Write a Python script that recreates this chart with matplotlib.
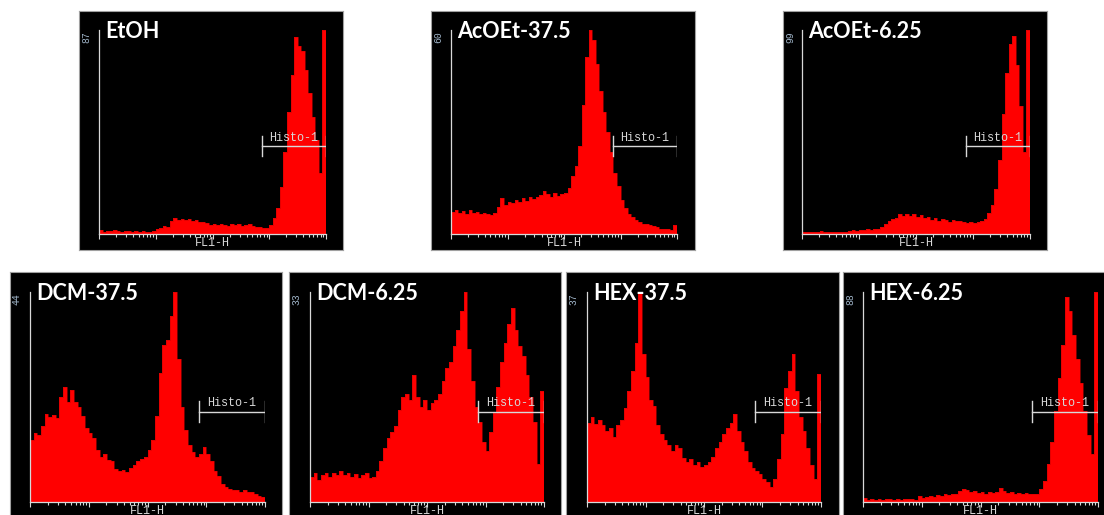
import numpy as np
import matplotlib.pyplot as plt
from matplotlib.ticker import LogLocator, NullFormatter, NullLocator
from matplotlib.transforms import blended_transform_factory

W, H = 1104, 515

titles = ["EtOH", "AcOEt-37.5", "AcOEt-6.25", "DCM-37.5", "DCM-6.25", "HEX-37.5", "HEX-6.25"]
y_max = [87, 60, 99, 44, 33, 37, 88]
gate = [740, 10000]
gate_level = 0.43

# counts per channel, 64 log channels over 4 decades
etoh = [1.5, 1.0, 1.3, 1.1, 1.6, 1.2, 1.0, 1.3, 1.1, 0.9, 1.2, 1.0, 1.1, 0.8, 1.0, 1.2,
        2.0, 2.6, 3.2, 3.0, 5.5, 7.0, 6.0, 6.5, 5.8, 6.4, 5.5, 6.0, 5.2, 5.0,
        4.5, 4.0, 4.4, 3.8, 4.2, 4.0, 3.6, 4.3, 3.9, 4.1, 3.5, 3.8, 4.2, 3.4, 3.0, 2.8, 2.6, 2.5,
        4.0, 7.0, 11, 20, 35, 52, 68, 84, 80, 78, 70, 60, 50, 40, 26, 87]
acoet_375 = [6.5, 7.0, 6.2, 6.8, 6.0, 7.0, 6.3, 6.6, 5.8, 6.3, 6.0, 5.6, 6.2, 8.0, 10.5, 8.5,
             9.5, 9.0, 10.0, 9.5, 10.5, 9.8, 10.8, 10.2, 11.0, 11.5, 12.5, 11.8, 11.0, 12.0,
             11.3, 11.8, 12.0, 13.5, 17.0, 20.0, 26.0, 38.0, 52.0, 60.0, 57.0, 50.0, 42.0,
             36.0, 30.0, 24.0, 18.0, 14.0, 10.0, 7.5, 6.0, 5.0, 4.2, 3.5, 3.0, 2.8, 2.6,
             2.3, 2.0, 1.6, 1.4, 1.5, 1.2, 2.5]
acoet_625 = [1.2, 0.9, 1.1, 0.8, 1.0, 1.3, 0.9, 1.1, 1.0, 1.2, 0.9, 1.0, 1.2, 1.5, 1.8, 1.6,
             2.0, 1.8, 2.2, 2.0, 2.4, 2.6, 3.2, 5.0, 6.5, 7.5, 8.0, 9.8, 8.5, 9.6, 8.8, 9.5,
             8.2, 9.0, 7.6, 8.2, 7.0, 7.8, 6.5, 7.2, 6.8, 6.0, 7.0, 6.2, 6.5, 5.8, 5.5, 5.6,
             5.3, 5.8, 6.5, 7.5, 10.0, 14.0, 22.0, 36.0, 58.0, 78.0, 92.0, 96.0, 82.0, 62.0,
             40.0, 99.0]
dcm_375 = [13.0, 14.5, 14.0, 16.0, 18.5, 17.8, 18.2, 17.5, 22.0, 24.0, 21.0, 23.5, 21.0,
           20.0, 18.0, 15.5, 14.5, 13.5, 11.0, 9.5, 10.0, 8.8, 8.5, 7.0, 6.5, 6.8, 6.2,
           7.2, 7.8, 8.5, 9.0, 9.5, 11.0, 13.0, 18.0, 27.0, 33.0, 34.0, 39.0, 44.0, 30.0,
           20.0, 15.0, 12.0, 10.5, 9.5, 10.0, 11.5, 10.0, 8.5, 6.5, 5.5, 3.8, 3.2, 2.8,
           2.5, 2.6, 2.2, 2.5, 2.0, 2.1, 1.6, 1.3, 1.0]
dcm_625 = [4.0, 4.5, 3.5, 4.2, 4.5, 4.0, 4.6, 4.2, 4.8, 4.3, 4.6, 4.0, 4.4, 3.8, 4.2, 4.6,
           3.8, 4.0, 4.8, 6.5, 8.5, 10.0, 11.0, 12.0, 14.5, 16.5, 17.0, 16.0, 20.0, 16.5,
           15.0, 16.0, 14.5, 15.5, 16.0, 17.0, 19.0, 21.0, 22.0, 24.5, 27.0, 30.0, 33.0,
           24.0, 19.0, 15.0, 12.5, 9.5, 8.0, 11.0, 14.0, 18.0, 22.0, 25.0, 28.0, 30.5,
           27.0, 24.5, 23.0, 20.0, 16.5, 12.5, 6.0, 17.5]
hex_375 = [14.0, 15.0, 13.8, 14.5, 13.5, 12.5, 13.0, 11.5, 13.5, 14.5, 16.5, 19.5, 23.0,
           28.0, 37.0, 26.0, 22.0, 18.0, 17.0, 13.5, 12.0, 11.0, 10.0, 9.0, 10.0, 9.5,
           7.8, 7.0, 7.5, 6.5, 7.0, 6.2, 6.5, 7.0, 8.0, 9.5, 10.5, 12.0, 13.0, 14.0, 15.5,
           12.5, 10.5, 9.0, 7.0, 6.0, 5.5, 5.0, 4.0, 3.5, 2.6, 4.0, 7.5, 12.0, 20.0, 23.0,
           26.0, 19.5, 15.0, 12.5, 9.5, 6.5, 4.0, 22.5]
hex_625 = [1.5, 0.8, 1.2, 1.0, 1.4, 0.9, 1.1, 1.3, 0.9, 1.2, 1.0, 1.3, 1.1, 1.4, 1.0, 2.5,
           1.8, 2.2, 2.6, 2.0, 3.0, 2.6, 3.2, 2.8, 3.5, 3.2, 4.5, 5.5, 5.0, 4.2, 4.8, 3.8,
           4.0, 3.5, 4.2, 3.6, 4.0, 6.0, 4.5, 3.8, 4.2, 3.4, 3.8, 3.3, 3.6, 3.2, 3.5, 3.3,
           5.5, 9.0, 16.0, 25.0, 38.0, 52.0, 66.0, 86.0, 80.0, 70.0, 60.0, 50.0, 38.0,
           28.0, 20.0, 88.0]
series = [etoh, acoet_375, acoet_625, dcm_375, dcm_625, hex_375, hex_625]

# layout in pixels (left, top, right, bottom)
panels = [(79, 11, 343, 250), (431, 11, 695, 250), (783, 11, 1047, 250),
          (10, 272, 282, 530), (289, 272, 561, 530), (566, 272, 839, 530), (843, 272, 1110, 530)]
plots = [(99, 30, 326, 234), (451, 30, 677, 234), (802, 30, 1030, 234),
         (30, 292, 265, 502), (310, 292, 544, 502), (587, 292, 821, 502), (863, 292, 1098, 502)]

edges = np.logspace(0, 4, 65)
fg = '#d8d8d8'


def px_rect(r):
    x0, y0, x1, y1 = r
    return [x0 / W, 1 - y1 / H, (x1 - x0) / W, (y1 - y0) / H]


fig = plt.figure(figsize=(W / 100, H / 100), dpi=100, facecolor='white')

for i in range(7):
    pa = fig.add_axes(px_rect(panels[i]))
    pa.set_facecolor('black')
    pa.set_xticks([])
    pa.set_yticks([])
    for s in pa.spines.values():
        s.set_color('#a0a0a0')
        s.set_linewidth(0.8)

    ax = fig.add_axes(px_rect(plots[i]))
    ax.patch.set_alpha(0)
    ax.stairs(series[i], edges, fill=True, color='#ff0000')
    ax.stairs(series[i], edges, color='#d00000', lw=0.4)
    ax.set_xscale('log')
    ax.set_xlim(1, 10000)
    ax.set_ylim(0, y_max[i])
    ax.xaxis.set_major_locator(LogLocator(base=10, numticks=10))
    ax.xaxis.set_minor_locator(LogLocator(base=10, subs=np.arange(2, 10), numticks=50))
    ax.xaxis.set_major_formatter(NullFormatter())
    ax.xaxis.set_minor_formatter(NullFormatter())
    ax.yaxis.set_major_locator(NullLocator())
    ax.tick_params(axis='x', which='major', length=3.5, width=0.8, color=fg, direction='out')
    ax.tick_params(axis='x', which='minor', length=2.2, width=0.8, color=fg, direction='out')
    for side in ['top', 'right']:
        ax.spines[side].set_visible(False)
    for side in ['left', 'bottom']:
        ax.spines[side].set_color(fg)
        ax.spines[side].set_linewidth(0.9)

    # Histo-1 gate marker
    tr = blended_transform_factory(ax.transData, ax.transAxes)
    ax.plot(gate, [gate_level, gate_level], color=fg, lw=1, transform=tr)
    for g in gate:
        ax.plot([g, g], [gate_level - 0.05, gate_level + 0.05], color=fg, lw=1, transform=tr)
    ax.text(np.sqrt(gate[0] * gate[1]), gate_level + 0.012, "Histo-1", transform=tr,
            ha='center', va='bottom', color=fg, fontsize=8.5, family='Liberation Mono')

    x0, y0, x1, y1 = plots[i]
    px0 = panels[i][0]
    fig.text((x0 + x1) / 2 / W, 1 - (y1 + 9) / H, "FL1-H", ha='center', va='center',
             color=fg, fontsize=8.5, family='Liberation Mono')
    fig.text((px0 + 7) / W, 1 - (y0 + 1) / H, str(y_max[i]), rotation=90, ha='center',
             va='top', color='#9fb4c8', fontsize=7, family='Liberation Mono')
    fig.text((x0 + 6) / W, 1 - (y0 + 8) / H, titles[i], ha='left', va='baseline',
             color='white', fontsize=15.5, fontweight='bold', family='Lato')

fig.savefig('out.png', dpi=100, facecolor='white')
